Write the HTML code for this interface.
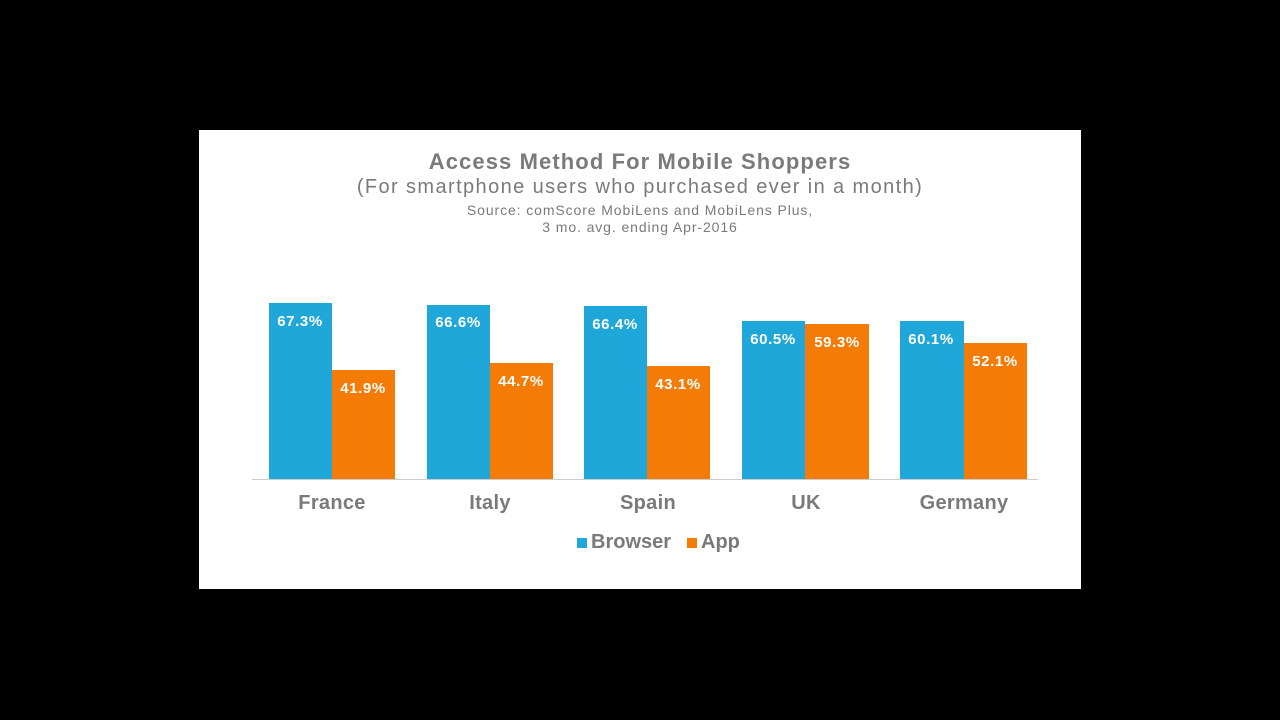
<!DOCTYPE html>
<html><head><style>
body{margin:0;width:1280px;height:720px;background:#000;position:relative;overflow:hidden;font-family:"Liberation Sans",Arial,sans-serif}
.panel{position:absolute;left:199px;top:130px;width:882px;height:459px;background:#fff}
.t{position:absolute;left:0;width:1280px;text-align:center;color:#7a7a7a;white-space:nowrap}
.b{position:absolute;}
.bl{background:#1fa7d9}.or{background:#f47b06}
.v{position:absolute;width:64px;text-align:center;color:#fff;font-weight:bold;font-size:15px;letter-spacing:0.6px}
.c{position:absolute;width:160px;text-align:center;color:#7a7a7a;font-weight:bold;font-size:20px;letter-spacing:0.3px}
</style></head><body>
<div class="panel"></div>
<div class="t" style="top:149px;font-size:22px;font-weight:bold;letter-spacing:1.1px">Access Method For Mobile Shoppers</div>
<div class="t" style="top:176px;font-size:20px;letter-spacing:1.4px">(For smartphone users who purchased ever in a month)</div>
<div class="t" style="top:202px;font-size:14px;letter-spacing:0.9px">Source: comScore MobiLens and MobiLens Plus,</div>
<div class="t" style="top:219px;font-size:14px;letter-spacing:0.9px">3 mo. avg. ending Apr-2016</div>
<div class="b" style="left:252px;top:479px;width:786px;height:1px;background:#ccc"></div>

<div class="b bl" style="left:269px;top:303px;width:63px;height:176px"></div>
<div class="b or" style="left:332px;top:370px;width:63px;height:109px"></div>
<div class="b bl" style="left:427px;top:305px;width:63px;height:174px"></div>
<div class="b or" style="left:490px;top:363px;width:63px;height:116px"></div>
<div class="b bl" style="left:584px;top:306px;width:63px;height:173px"></div>
<div class="b or" style="left:647px;top:366px;width:63px;height:113px"></div>
<div class="b bl" style="left:742px;top:321px;width:63px;height:158px"></div>
<div class="b or" style="left:805px;top:324px;width:64px;height:155px"></div>
<div class="b bl" style="left:900px;top:321px;width:64px;height:158px"></div>
<div class="b or" style="left:964px;top:343px;width:63px;height:136px"></div>

<div class="v" style="left:268px;top:313px">67.3%</div>
<div class="v" style="left:331px;top:380px">41.9%</div>
<div class="v" style="left:426px;top:314px">66.6%</div>
<div class="v" style="left:489px;top:373px">44.7%</div>
<div class="v" style="left:583px;top:316px">66.4%</div>
<div class="v" style="left:646px;top:376px">43.1%</div>
<div class="v" style="left:741px;top:331px">60.5%</div>
<div class="v" style="left:805px;top:334px">59.3%</div>
<div class="v" style="left:899px;top:331px">60.1%</div>
<div class="v" style="left:963px;top:353px">52.1%</div>

<div class="c" style="left:252px;top:492px">France</div>
<div class="c" style="left:410px;top:492px">Italy</div>
<div class="c" style="left:568px;top:492px">Spain</div>
<div class="c" style="left:726px;top:492px">UK</div>
<div class="c" style="left:884px;top:492px">Germany</div>

<div class="b bl" style="left:577px;top:538px;width:10px;height:10px"></div>
<div style="position:absolute;left:591px;top:531px;font-size:20px;font-weight:bold;color:#7a7a7a">Browser</div>
<div class="b or" style="left:687px;top:538px;width:10px;height:10px"></div>
<div style="position:absolute;left:701px;top:531px;font-size:20px;font-weight:bold;color:#7a7a7a">App</div>
</body></html>
